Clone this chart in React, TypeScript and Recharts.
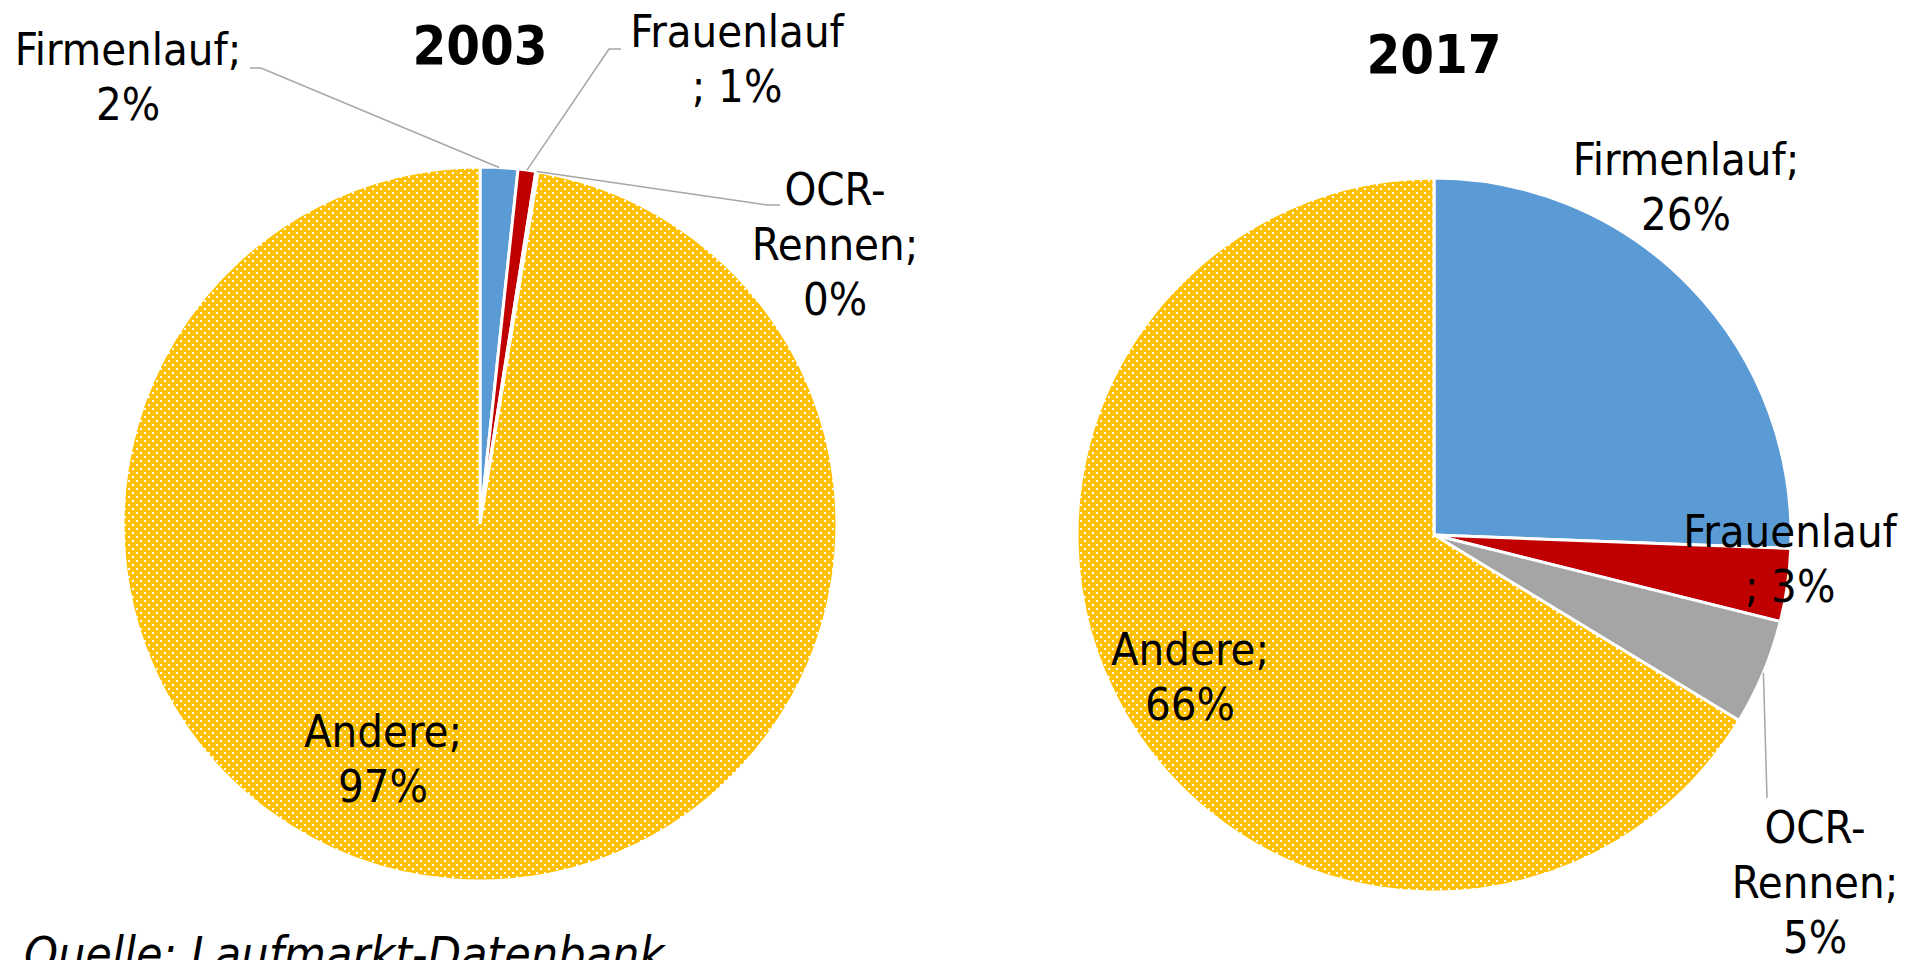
import { PieChart, Pie, Cell } from 'recharts'

const categories = ['Firmenlauf', 'Frauenlauf', 'OCR-Rennen', 'Andere']
const values2003 = [1.7, 0.8, 0.1, 97.4]
const values2017 = [25.6, 3.3, 4.8, 66.3]
const years = ['2003', '2017']
const source = 'Quelle: Laufmarkt-Datenbank'

const colors = ['#5B9BD5', '#C00000', '#A5A5A5', 'url(#dots)']
const FONT = "'DejaVu Sans Condensed', 'DejaVu Sans', sans-serif"
const RAD = Math.PI / 180

const data2003 = categories.map((name, i) => ({ name, value: values2003[i] }))
const data2017 = categories.map((name, i) => ({ name, value: values2017[i] }))

// where each data label sits, relative to the pie centre (first baseline),
// plus the elbow points of the leader line if Excel drew one
type LabelPos = { dx: number; dy: number; leader?: [number, number][]; semicolonBreak?: boolean }

const labels2003: LabelPos[] = [
  { dx: -352, dy: -459, leader: [[-219, -456], [-230, -456]] },
  { dx: 257, dy: -477, leader: [[129, -475], [141, -475]], semicolonBreak: true },
  { dx: 355, dy: -319, leader: [[287, -319], [300, -319]] },
  { dx: -97, dy: 223 },
]

const labels2017: LabelPos[] = [
  { dx: 252, dy: -360 },
  { dx: 356, dy: 12, semicolonBreak: true },
  { dx: 381, dy: 308, leader: [[333, 263]] },
  { dx: -244, dy: 130 },
]

const makeLabel = (layout: LabelPos[]) => (props: any) => {
  const { cx, cy, midAngle, outerRadius, percent, index, payload } = props
  const pos = layout[index]
  const name: string = payload?.name ?? props.name
  const pct = `${Math.round(percent * 100)}%`
  let lines: string[]
  if (name.includes('-')) {
    const [a, b] = name.split('-')
    lines = [a + '-', b + ';', pct]
  } else if (pos.semicolonBreak) {
    lines = [name, '; ' + pct]
  } else {
    lines = [name + ';', pct]
  }
  const x = cx + pos.dx
  const y = cy + pos.dy
  let leader = null
  if (pos.leader) {
    const sx = cx + outerRadius * Math.cos(-midAngle * RAD)
    const sy = cy + outerRadius * Math.sin(-midAngle * RAD)
    const pts = [[sx, sy], ...pos.leader.map(([px, py]) => [cx + px, cy + py])]
    leader = (
      <polyline
        points={pts.map((p) => p.join(',')).join(' ')}
        fill="none"
        stroke="#A6A6A6"
        strokeWidth={1.5}
      />
    )
  }
  return (
    <g key={`lbl-${index}`}>
      {leader}
      <text x={x} y={y} textAnchor="middle" fontFamily={FONT} fontSize={45} fill="#000">
        {lines.map((l, i) => (
          <tspan key={i} x={x} dy={i === 0 ? 0 : 55}>
            {l}
          </tspan>
        ))}
      </text>
    </g>
  )
}

export default function App() {
  return (
    <div
      style={{
        position: 'absolute',
        left: 0,
        top: 0,
        width: 1917,
        height: 960,
        overflow: 'hidden',
        background: '#fff',
      }}
    >
      <svg width={0} height={0} style={{ position: 'absolute' }}>
        <defs>
          <pattern id="dots" width="8" height="8" patternUnits="userSpaceOnUse">
            <rect width="8" height="8" fill="#FFC000" />
            <rect x="0" y="0" width="2" height="2" fill="#fff" />
            <rect x="4" y="4" width="2" height="2" fill="#fff" />
          </pattern>
        </defs>
      </svg>
      <PieChart width={1917} height={960} margin={{ top: 0, right: 0, bottom: 0, left: 0 }}>
        <Pie
          data={data2003}
          dataKey="value"
          nameKey="name"
          cx={480}
          cy={524}
          outerRadius={357}
          startAngle={90}
          endAngle={-270}
          stroke="#fff"
          strokeWidth={3}
          label={makeLabel(labels2003)}
          labelLine={false}
          isAnimationActive={false}
        >
          {data2003.map((d, i) => (
            <Cell key={d.name} fill={colors[i]} />
          ))}
        </Pie>
        <Pie
          data={data2017}
          dataKey="value"
          nameKey="name"
          cx={1434}
          cy={535}
          outerRadius={357}
          startAngle={90}
          endAngle={-270}
          stroke="#fff"
          strokeWidth={3}
          label={makeLabel(labels2017)}
          labelLine={false}
          isAnimationActive={false}
        >
          {data2017.map((d, i) => (
            <Cell key={d.name} fill={colors[i]} />
          ))}
        </Pie>
      </PieChart>
      <svg
        width={1917}
        height={960}
        style={{ position: 'absolute', left: 0, top: 0, pointerEvents: 'none' }}
      >
        <text x={480} y={64} textAnchor="middle" fontFamily={FONT} fontWeight="bold" fontSize={54}>
          {years[0]}
        </text>
        <text x={1434} y={73} textAnchor="middle" fontFamily={FONT} fontWeight="bold" fontSize={54}>
          {years[1]}
        </text>
        <text x={24} y={971} fontFamily={FONT} fontStyle="italic" fontSize={48}>
          {source}
        </text>
      </svg>
    </div>
  )
}
